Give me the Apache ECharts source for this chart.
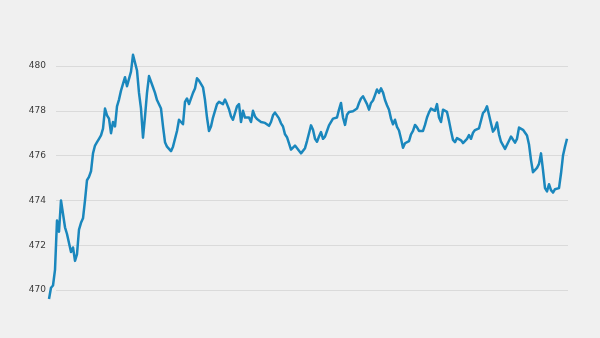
<!DOCTYPE html>
<html>
<head>
<meta charset="utf-8">
<script src="https://cdn.jsdelivr.net/npm/echarts@6/dist/echarts.min.js"></script>
<style>
html,body{margin:0;padding:0;background:#f0f0f0;}
#chart{width:600px;height:338px;}
</style>
</head>
<body>
<div id="chart"></div>
<script>
// Series values, evenly spaced observations (left to right)
const seriesValues = [
469.6, 470.1, 470.2, 470.9, 473.1, 472.6, 474.0, 474.0, 472.8, 472.5,
472.1, 471.7, 471.9, 471.3, 471.6, 472.7, 473.0, 473.2, 474.0, 474.9,
475.05, 475.3, 476.1, 476.45, 476.6, 476.75, 476.9, 477.2, 478.1, 477.8,
477.65, 477.0, 477.5, 477.3, 478.2, 478.5, 478.9, 479.2, 479.5, 479.1,
479.05, 479.75, 480.5, 480.45, 479.8, 478.8, 478.1, 476.8, 477.74, 478.8,
479.55, 479.55, 479.05, 478.8, 478.48, 478.4, 478.1, 477.3, 476.6, 476.4,
476.3, 476.2, 476.4, 476.45, 477.1, 477.6, 477.66, 477.4, 478.4, 478.55,
478.3, 478.3, 478.8, 479.0, 479.45, 479.35, 479.35, 479.05, 478.48, 477.7,
477.1, 477.3, 477.7, 478.0, 478.3, 478.4, 478.33, 478.3, 478.5, 478.3,
478.07, 477.75, 477.6, 477.6, 478.2, 478.3, 477.5, 478.0, 477.7, 477.7,
477.7, 477.5, 478.0, 477.75, 477.63, 477.57, 477.5, 477.5, 477.46, 477.4,
477.33, 477.5, 477.8, 477.92, 477.9, 477.66, 477.44, 477.3, 476.95, 476.82,
476.55, 476.27, 476.3, 476.45, 476.4, 476.22, 476.1, 476.05, 476.33, 476.65,
477.0, 477.35, 477.15, 476.75, 476.62, 476.85, 477.05, 476.75, 476.85, 477.1,
477.35, 477.4, 477.65, 477.72, 477.7, 478.05, 478.35, 477.7, 477.37, 477.82,
477.95, 477.9, 477.98, 477.97, 478.1, 478.35, 478.55, 478.65, 478.62, 478.3,
478.05, 478.35, 478.46, 478.7, 478.95, 478.8, 479.0, 478.82, 478.48, 478.25,
478.05, 477.65, 477.4, 477.6, 477.28, 477.12, 476.75, 476.35, 476.55, 476.49,
476.65, 476.95, 477.1, 477.37, 477.26, 477.1, 477.07, 477.1, 477.37, 477.7,
477.93, 478.1, 478.1, 478.0, 478.3, 477.7, 477.5, 478.05, 478.1, 477.95,
477.55, 477.1, 476.7, 476.6, 476.78, 476.8, 476.68, 476.56, 476.62, 476.75,
476.92, 476.75, 477.02, 477.14, 477.21, 477.22, 477.29, 477.9, 478.0, 478.2,
478.15, 477.44, 477.07, 477.2, 477.48, 476.95, 476.62, 476.65, 476.3, 476.38,
476.66, 476.85, 476.9, 476.58, 476.75, 477.25, 477.22, 477.15, 477.16, 476.9,
476.5, 475.8, 475.26, 475.28, 475.45, 475.63, 476.1, 475.35, 474.55, 474.4,
474.72, 474.46, 474.35, 474.5, 474.54, 474.55, 475.2, 476.0, 476.4, 476.75
];
// Category positions (observation index)
const categories = seriesValues.map((_, i) => String(i));
// Y-axis tick labels
const yTicks = [470, 472, 474, 476, 478, 480];

const yMin = yTicks[0], yMax = yTicks[yTicks.length - 1], yStep = yTicks[1] - yTicks[0];

const chart = echarts.init(document.getElementById('chart'), null, {renderer: 'canvas'});
chart.setOption({
  backgroundColor: '#f0f0f0',
  animation: false,
  grid: [
    {left: 56, right: 32, top: 66, bottom: 48, containLabel: false},
    {left: 49, right: 33, top: 66, bottom: 48, containLabel: false}
  ],
  xAxis: [
    {gridIndex: 0, type: 'category', data: categories, show: false, boundaryGap: false},
    {gridIndex: 1, type: 'category', data: categories, show: false, boundaryGap: false}
  ],
  yAxis: [
    {
      gridIndex: 0, type: 'value', min: yMin, max: yMax, interval: yStep,
      axisLine: {show: false}, axisTick: {show: false},
      axisLabel: {color: '#3a3a3a', fontSize: 9, fontFamily: 'DejaVu Sans, sans-serif', margin: 10},
      splitLine: {show: true, lineStyle: {color: '#dadada', width: 1}}
    },
    {
      gridIndex: 1, type: 'value', min: yMin, max: yMax, interval: yStep,
      show: false, splitLine: {show: false}
    }
  ],
  series: [{
    type: 'line',
    xAxisIndex: 1, yAxisIndex: 1,
    data: seriesValues,
    showSymbol: false,
    clip: false,
    smooth: false,
    lineStyle: {color: '#1a87bd', width: 2.5, join: 'round'}
  }]
});
</script>
</body>
</html>
